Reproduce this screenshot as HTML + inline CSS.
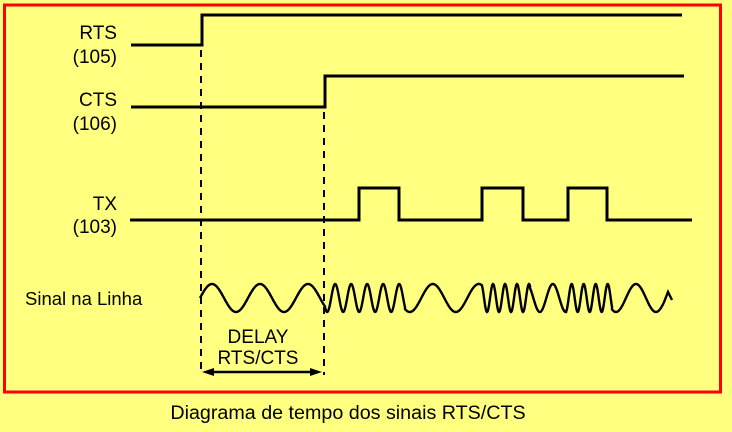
<!DOCTYPE html>
<html><head><meta charset="utf-8"><style>
html,body{margin:0;padding:0;background:#ffff80;}
svg{display:block;}
text{font-family:"Liberation Sans",sans-serif;font-size:19px;fill:#000;}
</style></head><body>
<svg width="732" height="432" viewBox="0 0 732 432" xmlns="http://www.w3.org/2000/svg">
<rect x="0" y="0" width="732" height="432" fill="#ffff80"/>
<rect x="4.5" y="5" width="716" height="387" fill="none" stroke="#ff0000" stroke-width="3"/>
<g fill="none" stroke="#000" stroke-width="3">
<polyline points="131,45 202,45 202,15 682,15"/>
<polyline points="131,107 325,107 325,76 684,76"/>
<polyline points="130,220 359,220 359,188 399,188 399,220 482,220 482,188 523,188 523,220 568,220 568,188 607,188 607,220 692,220"/>
</g>
<g stroke="#000" stroke-width="2" stroke-dasharray="7,6">
<line x1="201" y1="50" x2="201" y2="375"/>
<line x1="324" y1="112" x2="324" y2="375"/>
</g>
<line x1="206" y1="372" x2="318" y2="372" stroke="#000" stroke-width="2.5"/>
<polygon points="202,372 214,368 214,376" fill="#000"/>
<polygon points="322,372 310,368 310,376" fill="#000"/>
<path id="wave" fill="none" stroke="#000" stroke-width="2.4"/>
<g text-anchor="end">
<text x="117" y="39">RTS</text>
<text x="117" y="63">(105)</text>
<text x="117" y="106">CTS</text>
<text x="117" y="130">(106)</text>
<text x="117" y="210">TX</text>
<text x="117" y="233">(103)</text>
</g>
<text x="25" y="305" style="font-size:18.5px">Sinal na Linha</text>
<text x="258" y="343" text-anchor="middle">DELAY</text>
<text x="258" y="364" text-anchor="middle">RTS/CTS</text>
<text x="348" y="419" text-anchor="middle" style="font-size:19.7px">Diagrama de tempo dos sinais RTS/CTS</text>
</svg>
<script>
var segs=[[200,325,48],[325,405,16],[405,482,46],[482,530,12],[530,566,26],[566,612,12],[612,664,40]];
var d="",first=true,ph=0;
segs.forEach(function(s){var x0=s[0],x1=s[1],p=s[2];
for(var x=x0;x<=x1;x+=0.5){var y=298-14*Math.sin(ph);if(first){d+="M"+x+","+y;first=false;}else d+=" L"+x+","+y.toFixed(2);ph+=2*Math.PI*0.5/p;}});
d+=" L668,292 L672,300";
document.getElementById("wave").setAttribute("d",d);
</script>
</body></html>
